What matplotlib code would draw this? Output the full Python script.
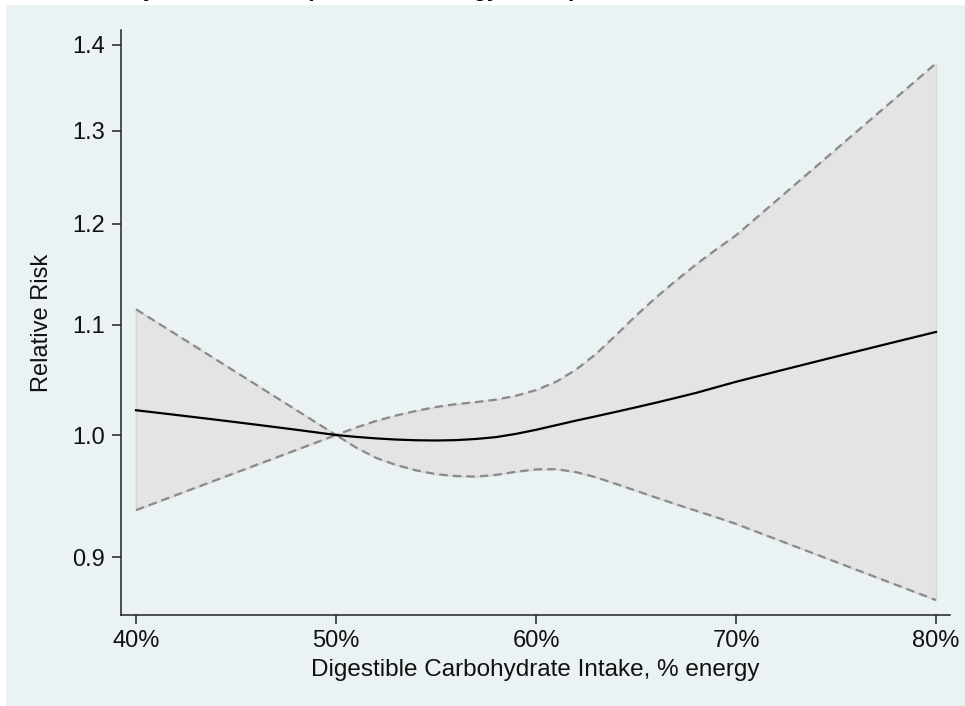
import matplotlib
matplotlib.use("Agg")
import matplotlib.pyplot as plt
from matplotlib.patches import Rectangle
from matplotlib.ticker import NullLocator, NullFormatter

plt.rcParams['font.family'] = ['Liberation Sans', 'DejaVu Sans']

# ---- data ----
carb_pct = [40, 42, 44, 46, 48,
            50, 51, 52, 53, 54, 55, 56, 57, 58, 59, 60,
            61, 62, 63, 64, 65, 66, 67, 68, 69, 70,
            72, 74, 76, 78, 80]
rr = [1.0216, 1.0175, 1.0133, 1.0090, 1.0046,
      1.0000, 0.9984, 0.9971, 0.9961, 0.9955, 0.9953, 0.9956, 0.9966, 0.9982, 1.0010, 1.0045,
      1.0085, 1.0125, 1.0163, 1.0202, 1.0242, 1.0283, 1.0326, 1.0370, 1.0420, 1.0470,
      1.0562, 1.0654, 1.0746, 1.0838, 1.0930]
ci_upper = [1.1146, 1.0907, 1.0673, 1.0444, 1.0219,
            1.0000, 1.0065, 1.0122, 1.0170, 1.0210, 1.0245, 1.0270, 1.0288, 1.0310, 1.0345, 1.0395,
            1.0470, 1.0580, 1.0725, 1.0900, 1.1085, 1.1260, 1.1425, 1.1585, 1.1735, 1.1880,
            1.2238, 1.2606, 1.2986, 1.3377, 1.3780]
ci_lower = [0.9373, 0.9495, 0.9619, 0.9744, 0.9871,
            1.0000, 0.9893, 0.9805, 0.9745, 0.9700, 0.9668, 0.9652, 0.9648, 0.9662, 0.9688, 0.9708,
            0.9710, 0.9685, 0.9642, 0.9587, 0.9531, 0.9475, 0.9420, 0.9368, 0.9316, 0.9262,
            0.9141, 0.9022, 0.8904, 0.8788, 0.8673]

x_ticks = [40, 50, 60, 70, 80]
x_tick_labels = ["40%", "50%", "60%", "70%", "80%"]
y_ticks = [0.9, 1.0, 1.1, 1.2, 1.3, 1.4]
y_tick_labels = ["0.9", "1.0", "1.1", "1.2", "1.3", "1.4"]

title = "Mortality Relative Risk (% of Total Energy Intake)"
x_label = "Digestible Carbohydrate Intake, % energy"
y_label = "Relative Risk"

# ---- figure ----
W, H = 965, 706
fig = plt.figure(figsize=(W / 100, H / 100), dpi=100, facecolor="white")

panel_color = "#EAF2F3"
fig.patches.append(Rectangle((6 / W, 0), 1 - 6 / W, 1 - 5 / H,
                             transform=fig.transFigure, facecolor=panel_color,
                             edgecolor="none", zorder=-10))

ax = fig.add_axes([121 / W, 1 - 615 / H, (950 - 121) / W, (615 - 30) / H])
ax.set_facecolor("none")
ax.set_zorder(5)

ax.fill_between(carb_pct, ci_lower, ci_upper, facecolor="#E4E4E4",
                edgecolor="#D9D9D9", linewidth=1.2, zorder=1)
ax.plot(carb_pct, ci_upper, color="#8A8A8A", lw=1.6, dashes=(3.8, 2.3),
        solid_joinstyle="round", zorder=2)
ax.plot(carb_pct, ci_lower, color="#8A8A8A", lw=1.6, dashes=(3.8, 2.3),
        solid_joinstyle="round", zorder=2)
ax.plot(carb_pct, rr, color="black", lw=1.6, solid_joinstyle="round", zorder=3)

ax.set_yscale("log")
ax.set_xlim(39.25, 80.7)
ax.set_ylim(0.8562, 1.4182)

ax.set_xticks(x_ticks)
ax.set_xticklabels(x_tick_labels)
ax.set_yticks(y_ticks)
ax.set_yticklabels(y_tick_labels)
ax.yaxis.set_minor_locator(NullLocator())
ax.yaxis.set_minor_formatter(NullFormatter())

for side in ("top", "right"):
    ax.spines[side].set_visible(False)
for side in ("left", "bottom"):
    ax.spines[side].set_color("#222222")
    ax.spines[side].set_linewidth(1.1)

ax.tick_params(axis="both", which="major", direction="out", length=6.5,
               width=1.1, color="#222222", labelsize=17, labelcolor="#111111")
ax.tick_params(axis="y", pad=5)
ax.tick_params(axis="x", pad=4)

ax.set_xlabel(x_label, fontsize=17.5, color="#111111", labelpad=5)
ax.set_ylabel(y_label, fontsize=17, color="#111111", labelpad=14)

fig.text(63 / W, 1 + 4.5 / H, title, fontsize=16, fontweight="bold",
         ha="left", va="baseline", color="black", zorder=-5)

fig.savefig("out.png", dpi=100, facecolor="white")
